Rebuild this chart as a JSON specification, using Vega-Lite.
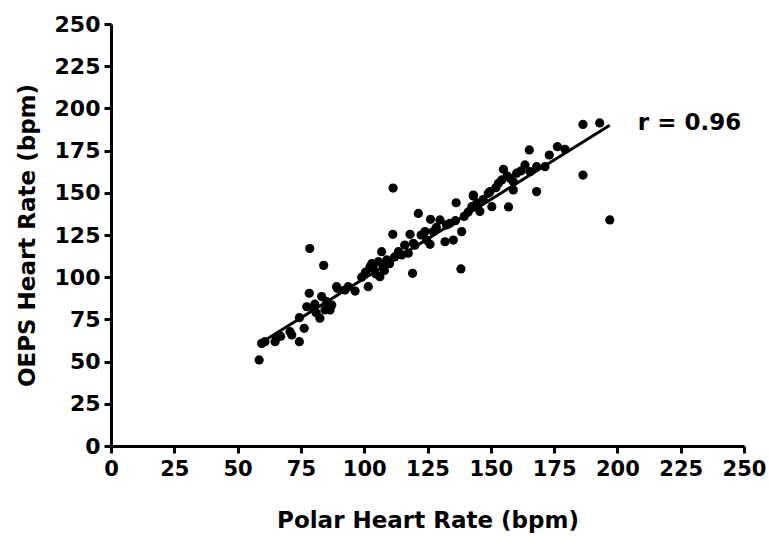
{
  "$schema": "https://vega.github.io/schema/vega-lite/v6.json",
  "width": 633,
  "height": 422,
  "autosize": {"type": "none"},
  "padding": {"left": 111, "top": 24, "right": 25, "bottom": 91},
  "background": "white",
  "config": {
    "view": {"stroke": null},
    "font": "DejaVu Sans",
    "axis": {
      "grid": false,
      "domainColor": "black",
      "domainWidth": 3,
      "tickColor": "black",
      "tickWidth": 3,
      "tickSize": 7,
      "labelFont": "DejaVu Sans",
      "labelFontWeight": "bold",
      "labelFontSize": 22,
      "labelColor": "black",
      "labelOverlap": false,
      "labelFlush": false,
      "labelBound": false,
      "titleFont": "DejaVu Sans",
      "titleFontWeight": "bold",
      "titleFontSize": 23,
      "titleColor": "black"
    }
  },
  "layer": [
    {
      "data": {"values": [
        {"polar": 58.5, "oeps": 51}, {"polar": 59.5, "oeps": 60.8}, {"polar": 60.8, "oeps": 61.8},
        {"polar": 64.8, "oeps": 61.8}, {"polar": 65.4, "oeps": 64.2}, {"polar": 67, "oeps": 65},
        {"polar": 70.7, "oeps": 67.7}, {"polar": 71.4, "oeps": 65.8}, {"polar": 74.4, "oeps": 61.8},
        {"polar": 76.3, "oeps": 69.7}, {"polar": 74.4, "oeps": 76}, {"polar": 78.3, "oeps": 90.5},
        {"polar": 77.3, "oeps": 82.5}, {"polar": 79.9, "oeps": 81.6}, {"polar": 82.5, "oeps": 75.7},
        {"polar": 83.2, "oeps": 88.5}, {"polar": 85.2, "oeps": 85.5}, {"polar": 86.5, "oeps": 80.6},
        {"polar": 87.2, "oeps": 83.5}, {"polar": 89.4, "oeps": 93.4}, {"polar": 92.4, "oeps": 92.4},
        {"polar": 84.5, "oeps": 80.6}, {"polar": 81, "oeps": 79}, {"polar": 80.5, "oeps": 84},
        {"polar": 78.5, "oeps": 117}, {"polar": 84, "oeps": 107},
        {"polar": 89.1, "oeps": 94.4}, {"polar": 93.7, "oeps": 94.4}, {"polar": 96.4, "oeps": 91.8},
        {"polar": 101.6, "oeps": 94.4}, {"polar": 102.3, "oeps": 106.2}, {"polar": 103.6, "oeps": 105.2},
        {"polar": 106.2, "oeps": 100.3}, {"polar": 106.9, "oeps": 115.1}, {"polar": 105.6, "oeps": 109.2},
        {"polar": 108.9, "oeps": 110.2}, {"polar": 111.3, "oeps": 125.4}, {"polar": 113.5, "oeps": 115.1},
        {"polar": 114.8, "oeps": 113.2}, {"polar": 118.1, "oeps": 125.4}, {"polar": 117.4, "oeps": 114.2},
        {"polar": 119.1, "oeps": 102.3}, {"polar": 119.4, "oeps": 120.1}, {"polar": 124, "oeps": 127},
        {"polar": 99, "oeps": 100}, {"polar": 100.5, "oeps": 103}, {"polar": 104.5, "oeps": 102},
        {"polar": 107.5, "oeps": 106}, {"polar": 110, "oeps": 108}, {"polar": 112, "oeps": 112},
        {"polar": 108, "oeps": 104}, {"polar": 103, "oeps": 108},
        {"polar": 111.4, "oeps": 152.8}, {"polar": 121.4, "oeps": 137.8}, {"polar": 138.2, "oeps": 104.9},
        {"polar": 126.2, "oeps": 134.3}, {"polar": 129.9, "oeps": 133.9}, {"polar": 131.9, "oeps": 121},
        {"polar": 135.2, "oeps": 122}, {"polar": 138.5, "oeps": 127}, {"polar": 136.3, "oeps": 144.1},
        {"polar": 142.5, "oeps": 141.8}, {"polar": 143.1, "oeps": 148.1}, {"polar": 145.7, "oeps": 139},
        {"polar": 149, "oeps": 149.7}, {"polar": 150.4, "oeps": 141.8}, {"polar": 153, "oeps": 155.6},
        {"polar": 133.9, "oeps": 131.9}, {"polar": 127.3, "oeps": 127}, {"polar": 124.7, "oeps": 122},
        {"polar": 120, "oeps": 119}, {"polar": 128.5, "oeps": 129.5}, {"polar": 132.5, "oeps": 131},
        {"polar": 136, "oeps": 133.5}, {"polar": 139.5, "oeps": 136}, {"polar": 141, "oeps": 138.5},
        {"polar": 144.5, "oeps": 144}, {"polar": 147, "oeps": 146}, {"polar": 122.5, "oeps": 125},
        {"polar": 116, "oeps": 119}, {"polar": 126, "oeps": 119.5},
        {"polar": 165.2, "oeps": 175.4}, {"polar": 173.1, "oeps": 172.4}, {"polar": 176.3, "oeps": 177.3},
        {"polar": 179.3, "oeps": 175.8}, {"polar": 168.1, "oeps": 150.7}, {"polar": 155, "oeps": 163.9},
        {"polar": 154.3, "oeps": 157.6}, {"polar": 158.9, "oeps": 151.7}, {"polar": 163.5, "oeps": 166.5},
        {"polar": 168.1, "oeps": 165.5}, {"polar": 171.4, "oeps": 165.5}, {"polar": 160.2, "oeps": 161.6},
        {"polar": 157.6, "oeps": 158.6}, {"polar": 149.7, "oeps": 150.7}, {"polar": 143.1, "oeps": 148.7},
        {"polar": 158.9, "oeps": 156.6}, {"polar": 157, "oeps": 141.6}, {"polar": 162, "oeps": 163},
        {"polar": 165.5, "oeps": 162.5}, {"polar": 152, "oeps": 153}, {"polar": 156.5, "oeps": 160},
        {"polar": 186.4, "oeps": 190.5}, {"polar": 193, "oeps": 191.4}, {"polar": 186.4, "oeps": 160.5},
        {"polar": 197, "oeps": 133.9}
      ]},
      "mark": {"type": "circle", "size": 85, "color": "black", "opacity": 1},
      "encoding": {
        "x": {"field": "polar", "type": "quantitative",
              "scale": {"domain": [0, 250], "nice": false, "zero": true},
              "axis": {"values": [0,25,50,75,100,125,150,175,200,225,250], "title": "Polar Heart Rate (bpm)", "labelFontSize": 21, "labelPadding": 5, "titlePadding": 30}},
        "y": {"field": "oeps", "type": "quantitative",
              "scale": {"domain": [0, 250], "nice": false, "zero": true},
              "axis": {"values": [0,25,50,75,100,125,150,175,200,225,250], "title": "OEPS Heart Rate (bpm)", "labelPadding": 4, "titlePadding": 15}}
      }
    },
    {
      "data": {"values": [{"polar": 58, "oeps": 60}, {"polar": 197, "oeps": 190}]},
      "mark": {"type": "line", "color": "black", "strokeWidth": 3},
      "encoding": {
        "x": {"field": "polar", "type": "quantitative"},
        "y": {"field": "oeps", "type": "quantitative"}
      }
    },
    {
      "data": {"values": [{"polar": 228.5, "oeps": 191.5, "label": "r = 0.96"}]},
      "mark": {"type": "text", "font": "DejaVu Sans", "fontWeight": "bold", "fontSize": 23, "color": "black", "align": "center", "baseline": "middle"},
      "encoding": {
        "x": {"field": "polar", "type": "quantitative"},
        "y": {"field": "oeps", "type": "quantitative"},
        "text": {"field": "label"}
      }
    }
  ]
}
